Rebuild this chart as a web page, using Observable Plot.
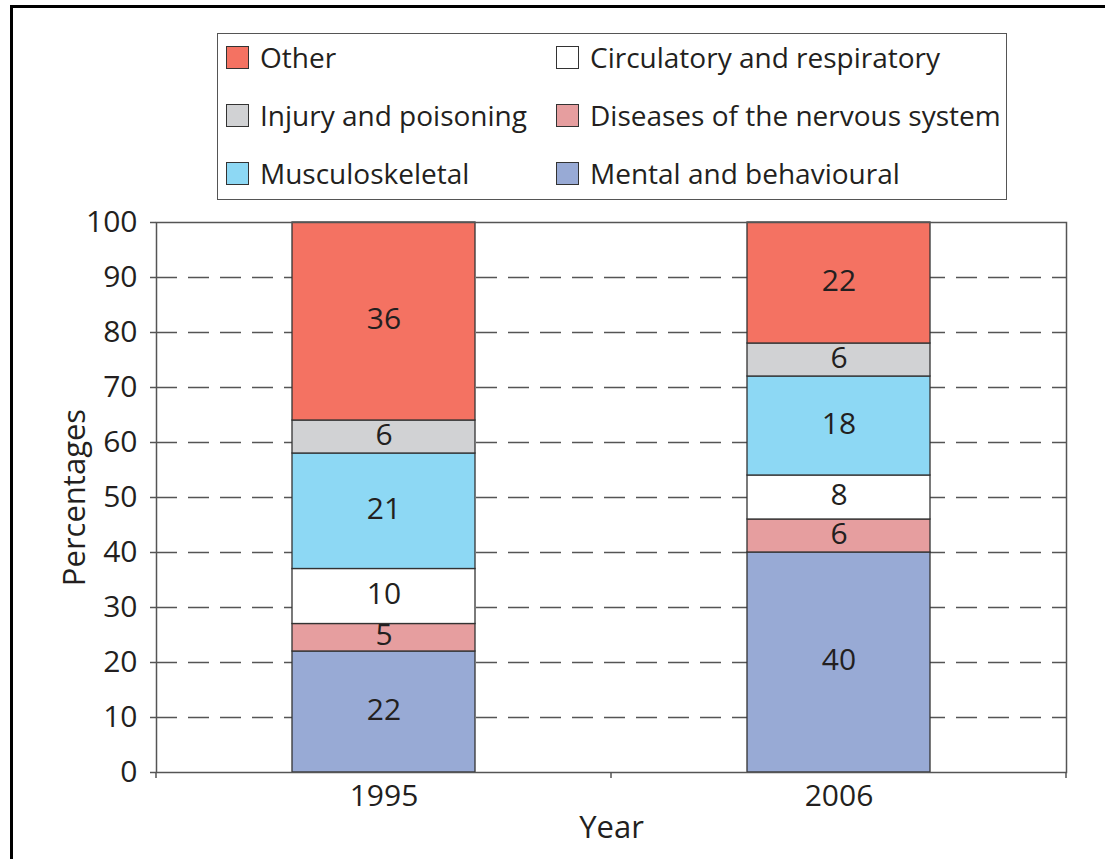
<!DOCTYPE html>
<html>
<head>
<meta charset="utf-8">
<script src="https://cdn.jsdelivr.net/npm/d3@7"></script>
<script src="https://cdn.jsdelivr.net/npm/@observablehq/plot@0.6"></script>
<style>
  html, body { margin: 0; padding: 0; background: #fff; }
  body { width: 1105px; height: 859px; position: relative; overflow: hidden; font-family: "Open Sans", sans-serif; color: #231f20; }
  #frame { position: absolute; left: 10px; top: 5px; width: 1200px; height: 900px; border-left: 3px solid #000; border-top: 3px solid #000; }
  #chart { position: absolute; left: 0; top: 0; }
  #legend { position: absolute; left: 217px; top: 33px; width: 788px; height: 165px; border: 1.5px solid #555; box-sizing: content-box; }
  .item { position: absolute; display: flex; align-items: center; font-size: 28px; line-height: 1; white-space: nowrap; }
  .sw { width: 21px; height: 21px; border: 1.2px solid #333; margin-right: 11px; }
</style>
</head>
<body>
<div id="frame"></div>
<div id="chart"></div>
<div id="legend"></div>
<script>
// Data
const years = ["1995", "2006"];
const categories = ["Mental and behavioural", "Diseases of the nervous system", "Circulatory and respiratory", "Musculoskeletal", "Injury and poisoning", "Other"];
const colors = ["#98aad5", "#e69e9f", "#ffffff", "#8dd8f4", "#d1d2d4", "#f47262"];
const values1995 = [22, 5, 10, 21, 6, 36];
const values2006 = [40, 6, 8, 18, 6, 22];
const yTicks = [0, 10, 20, 30, 40, 50, 60, 70, 80, 90, 100];
const gridTicks = [10, 20, 30, 40, 50, 60, 70, 80, 90];
const yLabel = "Percentages";
const xLabel = "Year";
// legend order: rows left-to-right
const legendOrder = ["Other", "Circulatory and respiratory", "Injury and poisoning", "Diseases of the nervous system", "Musculoskeletal", "Mental and behavioural"];

const rows = [];
categories.forEach((c, i) => {
  rows.push({year: "1995", cat: c, value: values1995[i]});
  rows.push({year: "2006", cat: c, value: values2006[i]});
});

const boundaryTicks = (index, scales, values, dimensions) => {
  const {marginLeft, marginRight, marginBottom, width, height} = dimensions;
  const n = years.length;
  const step = (width - marginLeft - marginRight) / n;
  const g = d3.create("svg:g").attr("stroke", "#555").attr("stroke-width", 1.5);
  for (let i = 0; i <= n; i++) {
    const x = marginLeft + i * step;
    g.append("line").attr("x1", x).attr("x2", x)
      .attr("y1", height - marginBottom).attr("y2", height - marginBottom + 6);
  }
  return g.node();
};

const chart = Plot.plot({
  width: 1105,
  height: 859,
  marginLeft: 156,
  marginRight: 39,
  marginTop: 222,
  marginBottom: 87,
  style: {fontFamily: "Open Sans, sans-serif", fontSize: "30px", color: "#231f20", background: "transparent"},
  x: {domain: years, padding: 0, label: null},
  y: {domain: [0, 100], label: null},
  color: {domain: categories, range: colors},
  marks: [
    Plot.gridY(gridTicks, {stroke: "#555", strokeOpacity: 1, strokeWidth: 1.5, strokeDasharray: "21,11"}),
    Plot.barY(rows, Plot.stackY({x: "year", y: "value", z: "cat", fill: "cat", order: categories,
      stroke: "#333", strokeWidth: 1.3, insetLeft: 136, insetRight: 136})),
    Plot.text(rows, Plot.stackY({x: "year", y: "value", z: "cat", order: categories, text: "value",
      fill: "#231f20", fontSize: 30, dy: -2})),
    Plot.frame({stroke: "#555", strokeWidth: 1.5}),
    Plot.axisY(yTicks, {tickSize: 6, tickPadding: 13, stroke: "#555", strokeWidth: 1.5, fill: "#231f20",
      fontSize: 30, label: null}),
    Plot.axisX({tickSize: 0, tickPadding: 12, fill: "#231f20", fontSize: 30, label: null}),
    Plot.text([yLabel], {frameAnchor: "left", textAnchor: "middle", lineAnchor: "middle", rotate: -90, dx: -81, fontSize: 31, fill: "#231f20"}),
    Plot.text([xLabel], {frameAnchor: "bottom", textAnchor: "middle", lineAnchor: "middle", dy: 56, fontSize: 31, fill: "#231f20"}),
    boundaryTicks
  ]
});
document.getElementById("chart").appendChild(chart);

// Legend
const legend = document.getElementById("legend");
const colX = [8, 338];
const rowY = [23, 81, 139];
legendOrder.forEach((c, i) => {
  const col = i % 2, row = Math.floor(i / 2);
  const item = document.createElement("div");
  item.className = "item";
  item.style.left = colX[col] + "px";
  item.style.top = (rowY[row] - 15) + "px";
  item.style.height = "30px";
  const sw = document.createElement("div");
  sw.className = "sw";
  sw.style.background = colors[categories.indexOf(c)];
  const tx = document.createElement("span");
  tx.textContent = c;
  item.appendChild(sw);
  item.appendChild(tx);
  legend.appendChild(item);
});
</script>
</body>
</html>
